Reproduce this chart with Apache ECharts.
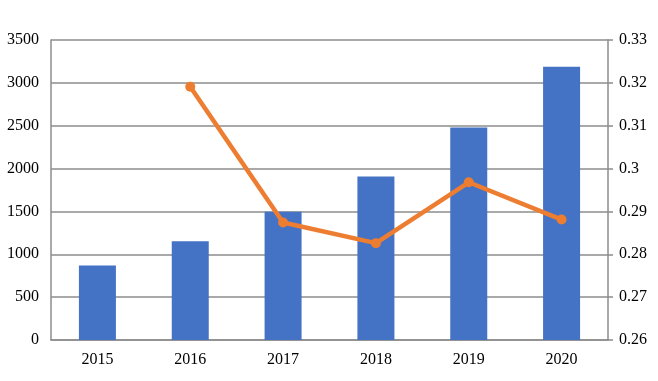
<!DOCTYPE html>
<html>
<head>
<meta charset="utf-8">
<script src="https://cdn.jsdelivr.net/npm/echarts@6/dist/echarts.min.js"></script>
<style>html,body{margin:0;padding:0;background:#fff;}#c{width:658px;height:381px;}</style>
</head>
<body>
<div id="c"></div>
<script>
const categories = ['2015', '2016', '2017', '2018', '2019', '2020'];
const barValues = [868, 1151, 1495, 1908, 2478, 3188];
const lineValues = [null, 0.3191, 0.2874, 0.2826, 0.2968, 0.2881];

const chart = echarts.init(document.getElementById('c'), null, {renderer: 'canvas'});
const font = 'Liberation Serif';
const gridColor = '#8c8c8c';
chart.setOption({
  animation: false,
  backgroundColor: '#ffffff',
  grid: {left: 51, right: 50, top: 40, bottom: 41},
  xAxis: {
    type: 'category',
    data: categories,
    axisLine: {show: true, lineStyle: {color: gridColor, width: 1.5}},
    axisTick: {show: false},
    axisLabel: {color: '#000', fontFamily: font, fontSize: 16, margin: 12}
  },
  yAxis: [{
    type: 'value', min: 0, max: 3500, interval: 500,
    axisLine: {show: true, lineStyle: {color: gridColor, width: 1.5}},
    axisTick: {show: false},
    splitLine: {show: true, lineStyle: {color: gridColor, width: 1.5}},
    axisLabel: {color: '#000', fontFamily: font, fontSize: 16, margin: 12,
      formatter: v => String(v)}
  }, {
    type: 'value', min: 0.26, max: 0.33, interval: 0.01,
    position: 'right',
    axisLine: {show: true, lineStyle: {color: gridColor, width: 1.5}},
    axisTick: {show: true, length: 5, lineStyle: {color: gridColor, width: 1.5}},
    splitLine: {show: false},
    axisLabel: {color: '#000', fontFamily: font, fontSize: 16, margin: 11,
      formatter: v => String(parseFloat(v.toFixed(2)))}
  }],
  series: [{
    type: 'bar', data: barValues, barWidth: 37, yAxisIndex: 0,
    itemStyle: {color: '#4472C4'}
  }, {
    type: 'line', data: lineValues, yAxisIndex: 1,
    connectNulls: false,
    lineStyle: {color: '#ED7D31', width: 4.5},
    itemStyle: {color: '#ED7D31'},
    symbol: 'circle', symbolSize: 10, z: 5
  }]
});
</script>
</body>
</html>
